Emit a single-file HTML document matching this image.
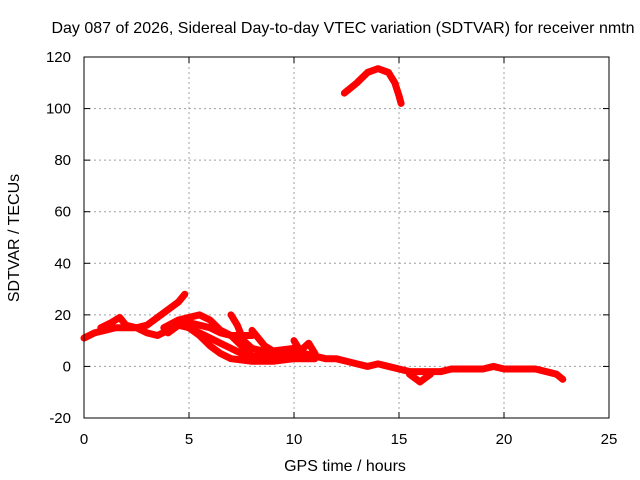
<!DOCTYPE html>
<html><head><meta charset="utf-8"><style>
body{margin:0;background:#fff;}
svg{display:block;font-family:"Liberation Sans",sans-serif;font-size:15px;}
</style></head><body>
<svg id="chart" width="640" height="480" viewBox="0 0 640 480">
<text x="343" y="33" text-anchor="middle" font-size="16">Day 087 of 2026, Sidereal Day-to-day VTEC variation (SDTVAR) for receiver nmtn</text>
<text x="345" y="471" text-anchor="middle" font-size="16">GPS time / hours</text>
<text transform="translate(19,238) rotate(-90)" text-anchor="middle" font-size="16">SDTVAR / TECUs</text>
<g id="grid"></g>
<g id="ticks"></g>
<g id="series"></g>
<rect x="84" y="57" width="525" height="361" fill="none" stroke="#000" stroke-width="1"/>
</svg>
<script>
const xTicks=[0,5,10,15,20,25];
const yTicks=[-20,0,20,40,60,80,100,120];
const trunk=[[0,11],[0.5,13],[1,14],[1.5,15],[2,15],[2.5,15],[3,13],[3.5,12],[4,14],[4.5,16],[5,15],[5.5,13],[6,11],[6.5,9],[7,7],[7.5,5],[8,4],[8.5,4],[9,4],[9.5,5],[10,5],[10.5,5],[11,4],[11.5,3],[12,3],[12.5,2],[13,1],[13.5,0],[14,1],[14.5,0],[15,-1],[15.5,-2],[16,-2],[16.5,-2],[17,-2],[17.5,-1],[18,-1],[18.5,-1],[19,-1],[19.5,0],[20,-1],[20.5,-1],[21,-1],[21.5,-1],[22,-2],[22.5,-3],[22.8,-5]];
const branchA=[[0.8,15],[1.3,17],[1.7,19],[2,16],[2.5,15],[3,16],[3.5,19],[4,22],[4.5,25],[4.8,28]];
const branchB=[[3.8,15],[4.5,18],[5,19],[5.5,20],[6,18],[6.5,14],[7,12],[7.5,8],[8,4],[9,3]];
const branchC=[[4,13],[4.5,16],[5,17],[5.5,16],[6,15],[6.5,13],[7,12],[7.5,12],[8,12]];
const branchD=[[5,15],[5.5,12],[6,8],[6.5,5],[7,3],[8,2],[9,2],[10,3],[11,3]];
const branchE=[[7,20],[7.3,16],[7.6,10],[8,7],[8.5,6],[9,6],[10,7]];
const branchF=[[8,14],[8.3,11],[8.6,8],[9,6]];
const branchG=[[10,10],[10.3,6],[10.7,9],[11,5]];
const branchH=[[15.5,-3],[16,-6],[16.5,-3]];
const peak=[[12.4,106],[13,110],[13.5,114],[14,115.5],[14.5,114],[14.8,110],[15,105],[15.1,102]];
const allSeries=[trunk,branchA,branchB,branchC,branchD,branchE,branchF,branchG,branchH,peak];
const seriesNames=['trunk','branch-a','branch-b','branch-c','branch-d','branch-e','branch-f','branch-g','branch-h','peak'];
const NS='http://www.w3.org/2000/svg';
function xs(v){return 84+v*21;}
function ys(v){return 418-(v+20)*361/140;}
const grid=document.getElementById('grid'),ticks=document.getElementById('ticks'),ser=document.getElementById('series');
function mk(tag,attrs,parent){const e=document.createElementNS(NS,tag);for(const k in attrs)e.setAttribute(k,attrs[k]);parent.appendChild(e);return e;}
xTicks.forEach(t=>{const x=xs(t);
 if(t>0&&t<25){const l=mk('line',{x1:x,x2:x,y1:57,y2:418,stroke:'#a0a0a0','stroke-dasharray':'2,3'},grid);
 
 }
 mk('line',{x1:x,x2:x,y1:418,y2:412,stroke:'#000'},ticks);mk('line',{x1:x,x2:x,y1:57,y2:63,stroke:'#000'},ticks);
 const tx=mk('text',{x:x,y:444,'text-anchor':'middle'},ticks);tx.textContent=t;
 
 });
yTicks.forEach(t=>{const y=ys(t);
 if(t>-20&&t<120){const l=mk('line',{x1:84,x2:609,y1:y,y2:y,stroke:'#a0a0a0','stroke-dasharray':'2,3'},grid);
 
 }
 mk('line',{x1:84,x2:90,y1:y,y2:y,stroke:'#000'},ticks);mk('line',{x1:603,x2:609,y1:y,y2:y,stroke:'#000'},ticks);
 const tx=mk('text',{x:71,y:y+5,'text-anchor':'end'},ticks);tx.textContent=t;
 
 });
allSeries.forEach((s,i)=>{
 const p=mk('polyline',{points:s.map(d=>xs(d[0])+','+ys(d[1])).join(' '),fill:'none',stroke:'#ff0000','stroke-width':7,'stroke-linejoin':'round','stroke-linecap':'round'},ser);
 
 
});
</script>
</body></html>
